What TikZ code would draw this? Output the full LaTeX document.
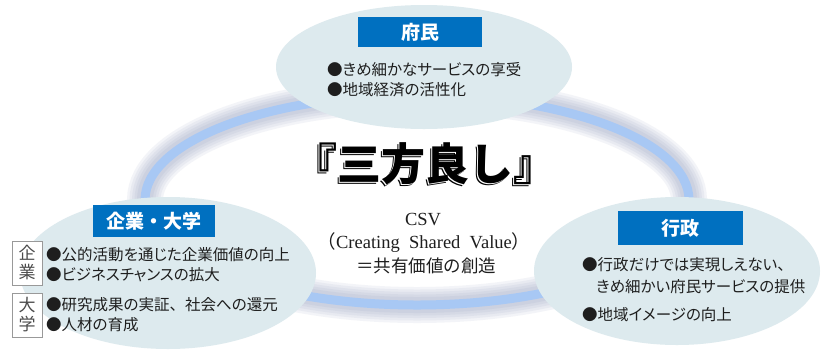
\documentclass[tikz,border=0pt]{standalone}
\usepackage{fontspec}
\setmainfont{Noto Sans CJK JP}
\newfontfamily\jp{Noto Sans CJK JP}
\newfontfamily\jpp[RawFeature=+palt]{Noto Sans CJK JP}
\newfontfamily\serifcsv{Liberation Serif}
\usetikzlibrary{shapes.geometric}
\definecolor{ellfill}{HTML}{DDEAEE}
\definecolor{titleblue}{HTML}{0070C0}
\definecolor{ringblue}{HTML}{A8C8F4}
\definecolor{ringshade}{HTML}{6E7FA8}
\definecolor{txt}{HTML}{1E1E1E}
\tikzset{
  bubble/.style={ellipse, fill=ellfill, inner sep=0pt},
  titlebox/.style={rectangle, fill=titleblue, text=white, inner sep=0pt,
    font=\jp\bfseries\fontsize{19}{22}\selectfont},
  bullet/.style={anchor=west, inner sep=0pt, text=txt,
    font=\jpp\fontsize{15.5}{18}\selectfont},
  vlabel/.style={rectangle, draw=black!40, fill=white, line width=0.8pt,
    minimum width=30pt, minimum height=44pt, inner sep=0pt, text=txt!80,
    font=\jp\fontsize{17}{19}\selectfont, align=center},
  csvtext/.style={inner sep=0pt, text=txt}
}
\begin{document}
\begin{tikzpicture}[x=1pt,y=-1pt]
\useasboundingbox (0,0) rectangle (821,349);
\fill[white] (0,0) rectangle (821,349);
% ring with soft shade
\foreach \w in {36,31,26,21,16}{
  \draw[ringshade, line width=\w pt, opacity=0.08] (417,200) ellipse [x radius=272, y radius=105];
}
\draw[ringblue, line width=9pt] (417,200) ellipse [x radius=272, y radius=105];

% bubbles
\node[bubble, minimum width=296pt, minimum height=124pt] (top) at (424,67) {};
\node[bubble, minimum width=296pt, minimum height=152pt] (left) at (168,273) {};
\node[bubble, minimum width=286pt, minimum height=148pt] (right) at (677,271) {};

% title boxes
\node[titlebox, minimum width=124pt, minimum height=30pt] (tfumin) at (420,32) {府民};
\node[titlebox, minimum width=122pt, minimum height=32pt] (tkigyo) at (154,221) {企業・大学};
\node[titlebox, minimum width=125pt, minimum height=34pt] (tgyosei) at (680.5,228) {行政};

% top bullets
\node[bullet] (f1) at (327,70) {●きめ細かなサービスの享受};
\node[bullet] (f2) at (327,90) {●地域経済の活性化};

% left bullets
\node[vlabel] (vk) at (27,263) {企\\業};
\node[vlabel] (vd) at (27,315) {大\\学};
\node[bullet] (k1) at (46,255) {●公的活動を通じた企業価値の向上};
\node[bullet] (k2) at (46,275) {●ビジネスチャンスの拡大};
\node[bullet] (d1) at (46,305) {●研究成果の実証{\jp 、}社会への還元};
\node[bullet] (d2) at (46,325) {●人材の育成};

% right bullets
\node[bullet] (g1) at (582,265) {●行政だけでは実現しえない{\jp 、}};
\node[bullet] (g2) at (596,287) {きめ細かい府民サービスの提供};
\node[bullet] (g3) at (582,315) {●地域イメージの向上};

% center title
\node[inner sep=0pt, text=black, font=\jp\bfseries\fontsize{44}{50}\selectfont] (titshadow) at (423,166) {『三方良し』};
\node[inner sep=0pt, text=white, font=\jp\bfseries\fontsize{44}{50}\selectfont] (titwhite) at (424,165) {『三方良し』};
\node[inner sep=0pt, text=black, font=\jp\bfseries\fontsize{44}{50}\selectfont] (title) at (425,164) {『三方良し』};

% CSV text
\node[csvtext, font=\serifcsv\fontsize{18.5}{20}\selectfont] (csv) at (423,220) {CSV};
\node[csvtext, font=\serifcsv\fontsize{18.5}{20}\selectfont] (csvlong) at (424,243) {{\jp （}Creating\ \ Shared\ \ Value{\jp ）}};
\node[csvtext, font=\jp\fontsize{17.5}{20}\selectfont] (csvjp) at (426,266) {＝共有価値の創造};
\end{tikzpicture}
\end{document}
